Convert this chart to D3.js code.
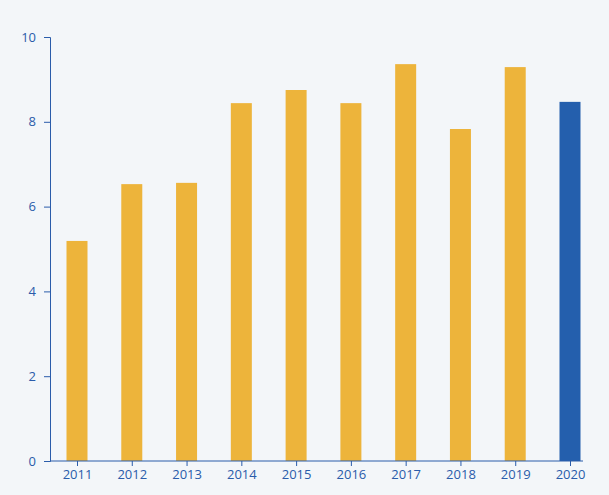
<!DOCTYPE html>
<html><head><meta charset="utf-8">
<script src="https://cdn.jsdelivr.net/npm/d3@7"></script>
<style>body{margin:0;background:#f3f6f9;}svg{display:block;font-family:"Open Sans",sans-serif;}</style>
</head><body><svg id="c" width="609" height="495"></svg>
<script>
const years = ["2011","2012","2013","2014","2015","2016","2017","2018","2019","2020"];
const values = [5.19,6.53,6.56,8.44,8.75,8.44,9.36,7.83,9.29,8.47];
const yTicks = [0,2,4,6,8,10];
const svg = d3.select("#c");
svg.append("rect").attr("width",609).attr("height",495).attr("fill","#f3f6f9");
const x = d3.scalePoint().domain(years).range([77,570]);
const y = d3.scaleLinear().domain([0,10]).range([461,37]);
const bw = 21;
svg.selectAll(".bar").data(years).enter().append("rect")
  .attr("x",d=>x(d)-bw/2).attr("width",bw)
  .attr("y",(d,i)=>y(values[i])).attr("height",(d,i)=>y(0)-y(values[i]))
  .attr("fill",(d,i)=>i===years.length-1?"#245fad":"#edb43b");
const blue="#2a5caa";
const ya = svg.append("g").attr("transform","translate(50,0)").call(d3.axisLeft(y).tickValues(yTicks).tickSize(6).tickPadding(8));
const xa = svg.append("g").attr("transform","translate(0,461)").call(d3.axisBottom(x).tickSize(5).tickPadding(4));
xa.select(".domain").attr("d","M50,0H583");
[ya,xa].forEach(a=>{a.selectAll("path,line").attr("stroke",blue);a.selectAll("text").attr("fill",blue).style("font-size","13px").style("font-family","'Open Sans',sans-serif");});
</script></body></html>
